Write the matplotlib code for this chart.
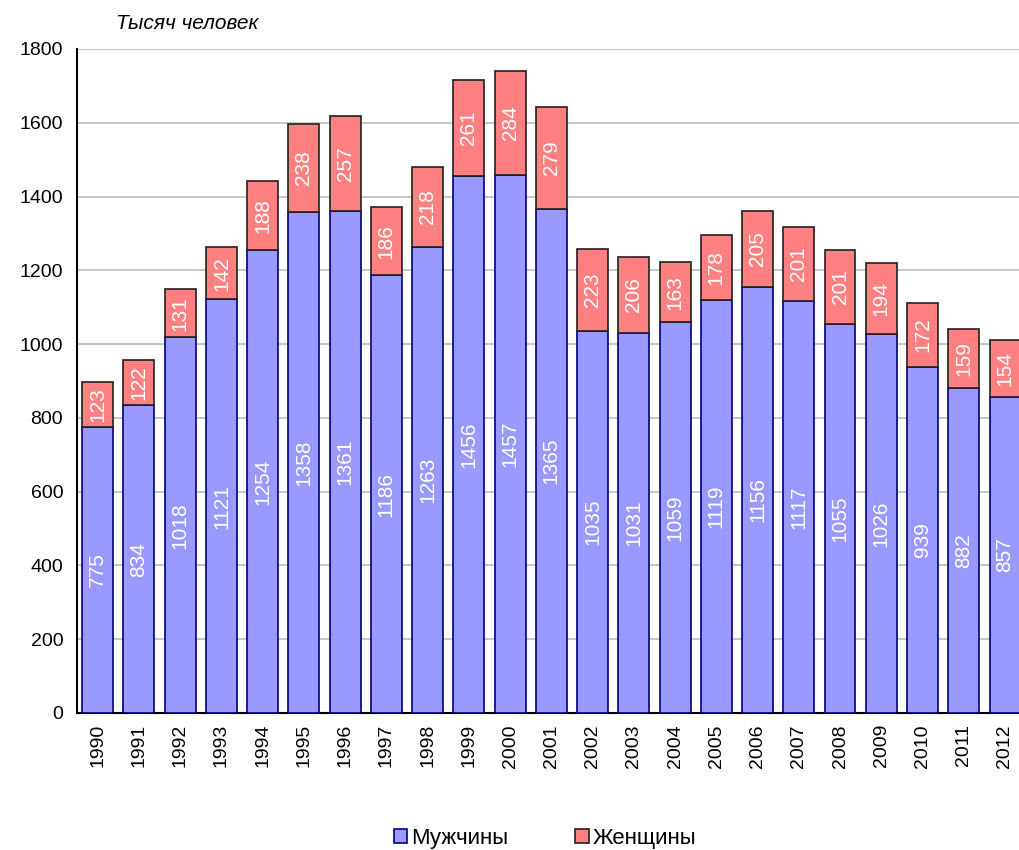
import matplotlib.pyplot as plt
import numpy as np

plt.rcParams['font.family'] = ['Liberation Sans', 'DejaVu Sans']

years = [str(y) for y in range(1990, 2013)]
men = [775, 834, 1018, 1121, 1254, 1358, 1361, 1186, 1263, 1456, 1457, 1365,
       1035, 1031, 1059, 1119, 1156, 1117, 1055, 1026, 939, 882, 857]
women = [123, 122, 131, 142, 188, 238, 257, 186, 218, 261, 284, 279,
         223, 206, 163, 178, 205, 201, 201, 194, 172, 159, 154]

fig = plt.figure(figsize=(10.19, 8.5), dpi=100)
ax = fig.add_axes([0.0756, 0.1612, 0.9244, 0.7812])

x = np.arange(len(years))
b1 = ax.bar(x, men, width=0.75, color='#9999FF', edgecolor='#000080', linewidth=1.2,
            label='Мужчины', zorder=3)
b2 = ax.bar(x, women, width=0.75, bottom=men, color='#FF8080', edgecolor='#202020',
            linewidth=1.2, label='Женщины', zorder=3)

# value labels inside segments
for i in range(len(years)):
    ax.text(x[i], men[i] / 2, str(men[i]), rotation=90, ha='center', va='center',
            color='white', fontsize=15, zorder=4)
    ax.text(x[i], men[i] + women[i] / 2, str(women[i]), rotation=90, ha='center',
            va='center', color='white', fontsize=15, zorder=4)

ax.set_xlim(-0.5, 22.34)
ax.set_ylim(0, 1800)
ax.set_yticks(range(0, 1801, 200))
ax.set_xticks(x)
ax.set_xticklabels(years, rotation=90, fontsize=14)
ax.tick_params(axis='y', labelsize=14, length=0, pad=10)
ax.tick_params(axis='x', length=0, pad=8)
ax.yaxis.grid(True, color='#BFBFBF', linewidth=1.2, zorder=0)
ax.set_axisbelow(True)
for s in ['top', 'right']:
    ax.spines[s].set_visible(False)
ax.spines['left'].set_linewidth(1.5)
ax.spines['bottom'].set_linewidth(1.5)

fig.text(0.114, 0.972, 'Тысяч человек', fontsize=15, style='italic', va='center', ha='left')

fig.legend(handles=[b1, b2], loc='center', bbox_to_anchor=(0.535, 0.014), ncol=2,
           frameon=False, fontsize=16, handlelength=0.6, handleheight=0.6,
           handletextpad=0.2, columnspacing=3.0, borderaxespad=0)

fig.savefig('out.png', dpi=100)
